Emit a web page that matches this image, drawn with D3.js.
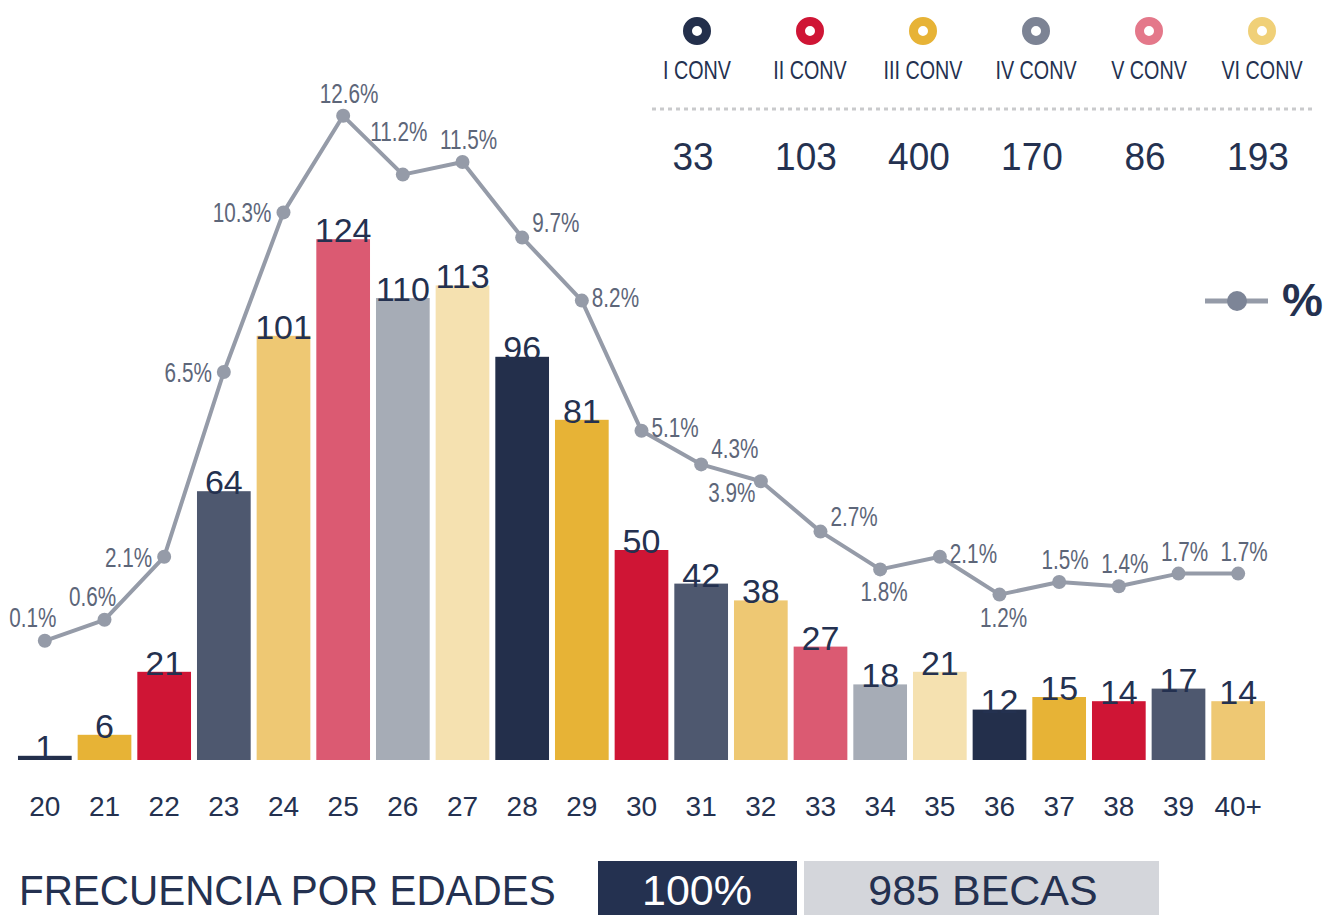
<!DOCTYPE html>
<html>
<head>
<meta charset="utf-8">
<script src="https://cdn.jsdelivr.net/npm/d3@7"></script>
<style>
  body { margin: 0; background: #fff; }
  svg { display: block; }
</style>
</head>
<body>
<script>
const width = 1327;
const height = 915;

// ages and counts per age
const ages = ["20", "21", "22", "23", "24", "25", "26", "27", "28", "29", "30",
              "31", "32", "33", "34", "35", "36", "37", "38", "39", "40+"];
const counts = [1, 6, 21, 64, 101, 124, 110, 113, 96, 81, 50, 42, 38, 27, 18, 21, 12, 15, 14, 17, 14];
const pcts = [0.1, 0.6, 2.1, 6.5, 10.3, 12.6, 11.2, 11.5, 9.7, 8.2, 5.1, 4.3, 3.9, 2.7, 1.8, 2.1, 1.2, 1.5, 1.4, 1.7, 1.7];
// where each % label sits around its point
const pctSide = ["aboveLeft", "aboveLeft", "left", "left", "left", "above", "high", "above", "aboveRight", "right", "right",
                 "aboveRight", "belowLeft", "aboveRight", "below", "right", "below", "above", "above", "above", "above"];

// convocatorias legend
const convNames = ["I CONV", "II CONV", "III CONV", "IV CONV", "V CONV", "VI CONV"];
const convTotals = [33, 103, 400, 170, 86, 193];
const convColors = ["#232f4b", "#cf1535", "#e7b336", "#7c8394", "#e4788a", "#f0d078"];

const barColors = ["#232f4b", "#e7b336", "#cf1535", "#4e586f", "#eec873", "#db5a72", "#a6acb6", "#f5e1b0"];

const navy = "#243150";
const lineColor = "#959ba8";
const font = "'Liberation Sans', Arial, sans-serif";

let svg = d3.select("body").append("svg")
    .attr("width", width)
    .attr("height", height)
    .style("font-family", font);

// squeeze a text horizontally around its anchor (the original uses a condensed face)
function place(sel, fx, fy, sx) {
    sel.attr("transform", (d, i) => "translate(" + fx(d, i) + "," + fy(d, i) + ") scale(" + sx + ",1)");
}

const x = d3.scaleBand()
    .domain(ages)
    .range([15, 1268])
    .paddingInner(0.1)
    .paddingOuter(0.05);

const yBar = d3.scaleLinear().domain([0, 130]).range([760, 214]);
const yPct = d3.scaleLinear().domain([0, 14]).range([645, 57]);

// bars
svg.append("g").selectAll("rect")
    .data(counts)
    .enter()
    .append("rect")
    .attr("x", (d, i) => x(ages[i]))
    .attr("y", d => yBar(d))
    .attr("width", x.bandwidth())
    .attr("height", d => yBar(0) - yBar(d))
    .attr("fill", (d, i) => barColors[i % barColors.length]);

// bar values
svg.append("g").selectAll("text")
    .data(counts)
    .enter()
    .append("text")
    .attr("x", (d, i) => x(ages[i]) + x.bandwidth() / 2)
    .attr("y", d => yBar(d) + 3)
    .attr("text-anchor", "middle")
    .style("font-size", "34px")
    .style("fill", navy)
    .text(d => d);

// age axis (labels only)
const axis = svg.append("g")
    .attr("transform", "translate(0,796)")
    .call(d3.axisBottom(x).tickSize(0).tickPadding(0));
axis.select(".domain").remove();
axis.selectAll("text")
    .attr("dy", "0.71em")
    .style("font-family", font)
    .style("font-size", "28px")
    .style("fill", navy);

// percentage line
const cx = (d, i) => x(ages[i]) + x.bandwidth() / 2;
const line = d3.line()
    .x(cx)
    .y(d => yPct(d));

svg.append("path")
    .datum(pcts)
    .attr("d", line)
    .attr("fill", "none")
    .attr("stroke", lineColor)
    .attr("stroke-width", 4)
    .attr("stroke-linejoin", "round");

svg.append("g").selectAll("circle")
    .data(pcts)
    .enter()
    .append("circle")
    .attr("cx", cx)
    .attr("cy", d => yPct(d))
    .attr("r", 7)
    .attr("fill", lineColor);

const sideOffsets = {
    above: [6, -13, "middle"],
    high: [-4, -34, "middle"],
    aboveLeft: [-12, -14, "middle"],
    aboveRight: [10, -6, "start"],
    left: [-12, 10, "end"],
    right: [10, 6, "start"],
    below: [4, 32, "middle"],
    belowLeft: [-29, 21, "middle"]
};

svg.append("g").selectAll("text")
    .data(pcts)
    .enter()
    .append("text")
    .attr("text-anchor", (d, i) => sideOffsets[pctSide[i]][2])
    .style("font-size", "28px")
    .style("fill", "#5d6679")
    .text(d => d.toFixed(1) + "%")
    .call(place,
        (d, i) => cx(d, i) + sideOffsets[pctSide[i]][0],
        (d, i) => yPct(d) + sideOffsets[pctSide[i]][1],
        0.74);

// legend of convocatorias
const lx = d3.scalePoint().domain(convNames).range([697, 1262]);
const legend = svg.append("g");

legend.selectAll("circle")
    .data(convNames)
    .enter()
    .append("circle")
    .attr("cx", d => lx(d))
    .attr("cy", 31)
    .attr("r", 9.5)
    .attr("fill", "none")
    .attr("stroke", (d, i) => convColors[i])
    .attr("stroke-width", 9);

legend.selectAll("text.name")
    .data(convNames)
    .enter()
    .append("text")
    .attr("class", "name")
    .attr("text-anchor", "middle")
    .style("font-size", "25px")
    .style("fill", navy)
    .text(d => d)
    .call(place, d => lx(d), () => 79, 0.79);

legend.append("line")
    .attr("x1", 652)
    .attr("x2", 1312)
    .attr("y1", 109)
    .attr("y2", 109)
    .attr("stroke", "#c9cacc")
    .attr("stroke-width", 3)
    .attr("stroke-dasharray", "4,4");

legend.selectAll("text.total")
    .data(convTotals)
    .enter()
    .append("text")
    .attr("class", "total")
    .attr("text-anchor", "middle")
    .style("font-size", "39px")
    .style("fill", navy)
    .text(d => d)
    .call(place, (d, i) => lx(convNames[i]) - 4, () => 170, 0.95);

// line legend
svg.append("line")
    .attr("x1", 1205)
    .attr("x2", 1268)
    .attr("y1", 301)
    .attr("y2", 301)
    .attr("stroke", lineColor)
    .attr("stroke-width", 5);
svg.append("circle")
    .attr("cx", 1237)
    .attr("cy", 301)
    .attr("r", 10)
    .attr("fill", "#7d8597");
svg.append("text")
    .attr("x", 1282)
    .attr("y", 316)
    .style("font-weight", "bold")
    .style("font-size", "46px")
    .style("fill", navy)
    .text("%");

// bottom caption
svg.append("text")
    .style("font-size", "43px")
    .style("fill", navy)
    .text("FRECUENCIA POR EDADES")
    .call(place, () => 19, () => 905, 0.94);

svg.append("rect")
    .attr("x", 598)
    .attr("y", 861)
    .attr("width", 199)
    .attr("height", 60)
    .attr("fill", navy);
svg.append("text")
    .attr("x", 697)
    .attr("y", 905)
    .attr("text-anchor", "middle")
    .style("font-size", "43px")
    .style("fill", "#fff")
    .text("100%");

svg.append("rect")
    .attr("x", 804)
    .attr("y", 861)
    .attr("width", 355)
    .attr("height", 60)
    .attr("fill", "#d4d6db");
svg.append("text")
    .attr("x", 983)
    .attr("y", 905)
    .attr("text-anchor", "middle")
    .style("font-size", "43px")
    .style("fill", navy)
    .text("985 BECAS");
</script>
</body>
</html>
